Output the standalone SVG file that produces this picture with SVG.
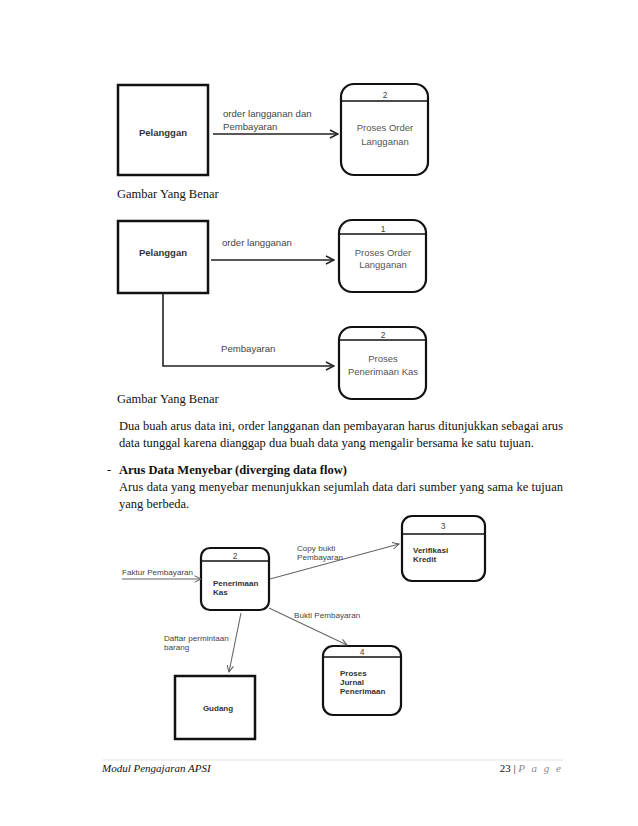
<svg xmlns="http://www.w3.org/2000/svg" width="638" height="826" viewBox="0 0 638 826">
<defs>
<marker id="arrB" viewBox="0 0 10 10" refX="9" refY="5" markerWidth="10" markerHeight="10" markerUnits="userSpaceOnUse" orient="auto">
<path d="M1,1 L9,5 L1,9" fill="none" stroke="#222" stroke-width="1.5"/>
</marker>
<marker id="arrG" viewBox="0 0 10 10" refX="9" refY="5" markerWidth="8" markerHeight="8" markerUnits="userSpaceOnUse" orient="auto">
<path d="M1,1 L9,5 L1,9" fill="none" stroke="#555" stroke-width="1.2"/>
</marker>
</defs>
<style>
.ent{fill:#fff;stroke:#111;stroke-width:2.5}
.proc{fill:#fff;stroke:#111;stroke-width:2.2}
.hdr{stroke:#111;stroke-width:1.5}
.flowB{fill:none;stroke:#222;stroke-width:1.6}
.flowG{fill:none;stroke:#666;stroke-width:1.1}
.lbl{font-family:"Liberation Sans",Arial,sans-serif;font-size:9.6px;fill:#444}
.lblb{font-family:"Liberation Sans",Arial,sans-serif;font-size:9.5px;font-weight:bold;fill:#333}
.plbl{font-family:"Liberation Sans",Arial,sans-serif;font-size:9.5px;fill:#555;text-anchor:middle}
.num{font-family:"Liberation Sans",Arial,sans-serif;font-size:8.5px;fill:#444;text-anchor:middle}
.s{font-family:"Liberation Sans",Arial,sans-serif;font-size:8.1px;fill:#444}
.sb{font-family:"Liberation Sans",Arial,sans-serif;font-size:8px;font-weight:bold;fill:#333}
.body{font-family:"Liberation Serif","Times New Roman",serif;font-size:12.5px;fill:#111}
.foot{font-family:"Liberation Serif","Times New Roman",serif;font-size:11px;fill:#111}
</style>
<rect width="638" height="826" fill="#fff"/>

<!-- Figure 1 -->
<g id="f1-pelanggan">
<rect class="ent" x="118" y="85" width="90" height="90"/>
<text class="lblb" x="163" y="136" text-anchor="middle">Pelanggan</text>
</g>
<g id="f1-proses2">
<rect class="proc" x="341" y="84" width="87" height="91" rx="13"/>
<line class="hdr" x1="341" y1="101" x2="428" y2="101"/>
<text class="num" x="385" y="98">2</text>
<text class="plbl" x="385" y="131">Proses Order</text>
<text class="plbl" x="385" y="145">Langganan</text>
</g>
<g id="f1-connectors">
<line class="flowB" x1="213" y1="134" x2="338" y2="134" marker-end="url(#arrB)"/>
<text class="lbl" x="223" y="117">order langganan dan</text>
<text class="lbl" x="223" y="130">Pembayaran</text>
</g>
<text class="body" x="117" y="198">Gambar Yang Benar</text>

<!-- Figure 2 -->
<g id="f2-pelanggan">
<rect class="ent" x="118" y="221" width="90" height="72"/>
<text class="lblb" x="163" y="256" text-anchor="middle">Pelanggan</text>
</g>
<g id="f2-proses1">
<rect class="proc" x="339" y="220" width="87" height="72" rx="13"/>
<line class="hdr" x1="339" y1="234" x2="426" y2="234"/>
<text class="num" x="383" y="232">1</text>
<text class="plbl" x="383" y="256">Proses Order</text>
<text class="plbl" x="383" y="268">Langganan</text>
</g>
<g id="f2-proses2">
<rect class="proc" x="339" y="327" width="87" height="72" rx="13"/>
<line class="hdr" x1="339" y1="340" x2="426" y2="340"/>
<text class="num" x="383" y="338">2</text>
<text class="plbl" x="383" y="362">Proses</text>
<text class="plbl" x="383" y="375">Penerimaan Kas</text>
</g>
<g id="f2-connectors">
<line class="flowB" x1="211" y1="260" x2="334" y2="260" marker-end="url(#arrB)"/>
<text class="lbl" x="222" y="246">order langganan</text>
<polyline class="flowB" points="163,293 163,366 334,366" marker-end="url(#arrB)"/>
<text class="lbl" x="221" y="352">Pembayaran</text>
</g>
<text class="body" x="117" y="403">Gambar Yang Benar</text>

<!-- Body text -->
<text class="body" x="119" y="430" textLength="444" lengthAdjust="spacing">Dua buah arus data ini, order langganan dan pembayaran harus ditunjukkan sebagai arus</text>
<text class="body" x="119" y="447">data tunggal karena dianggap dua buah data yang mengalir bersama ke satu tujuan.</text>
<text class="body" x="107" y="474">-</text>
<text class="body" x="119" y="474" font-weight="bold">Arus Data Menyebar (diverging data flow)</text>
<text class="body" x="119" y="491" textLength="444" lengthAdjust="spacing">Arus data yang menyebar menunjukkan sejumlah data dari sumber yang sama ke tujuan</text>
<text class="body" x="119" y="508">yang berbeda.</text>

<!-- Figure 3 -->
<g id="f3-penerimaan">
<rect class="proc" x="201" y="548" width="68" height="62" rx="9" stroke-width="1.8"/>
<line class="hdr" x1="201" y1="561" x2="269" y2="561" stroke-width="1.2"/>
<text class="num" x="235" y="559" font-size="8">2</text>
<text class="sb" x="213" y="586">Penerimaan</text>
<text class="sb" x="213" y="595">Kas</text>
</g>
<g id="f3-verifikasi">
<rect class="proc" x="402" y="516" width="83" height="65" rx="10" stroke-width="1.8"/>
<line class="hdr" x1="402" y1="534" x2="485" y2="534" stroke-width="1.2"/>
<text class="num" x="443" y="529" font-size="8">3</text>
<text class="sb" x="413" y="553">Verifikasi</text>
<text class="sb" x="413" y="562">Kredit</text>
</g>
<g id="f3-jurnal">
<rect class="proc" x="323" y="646" width="78" height="69" rx="10" stroke-width="1.8"/>
<line class="hdr" x1="323" y1="657" x2="401" y2="657" stroke-width="1.2"/>
<text class="num" x="362" y="655" font-size="8">4</text>
<text class="sb" x="340" y="676">Proses</text>
<text class="sb" x="340" y="685">Jurnal</text>
<text class="sb" x="340" y="694">Penerimaan</text>
</g>
<g id="f3-gudang">
<rect class="ent" x="175" y="676" width="80" height="63" stroke-width="2"/>
<text class="sb" x="218" y="711" text-anchor="middle">Gudang</text>
</g>
<g id="f3-connectors">
<line class="flowG" x1="122" y1="579" x2="201" y2="579" marker-end="url(#arrG)"/>
<text class="s" x="122" y="575">Faktur Pembayaran</text>
<line class="flowG" x1="270" y1="579" x2="399" y2="544" marker-end="url(#arrG)"/>
<text class="s" x="297" y="551">Copy bukti</text>
<text class="s" x="297" y="560">Pembayaran</text>
<line class="flowG" x1="269" y1="608" x2="347" y2="645" marker-end="url(#arrG)"/>
<text class="s" x="294" y="618">Bukti Pembayaran</text>
<line class="flowG" x1="241" y1="613" x2="229" y2="672" marker-end="url(#arrG)"/>
<text class="s" x="164" y="641">Daftar permintaan</text>
<text class="s" x="164" y="650">barang</text>
</g>

<!-- Footer -->
<line x1="102" y1="760" x2="563" y2="760" stroke="#ddd" stroke-width="0.8"/>
<text class="foot" x="102" y="772" font-style="italic" style="font-style:italic">Modul Pengajaran APSI</text>
<text class="foot" x="563" y="772" text-anchor="end" style="font-style:normal"><tspan>23 | </tspan><tspan style="font-style:italic" fill="#888" letter-spacing="2">P a g e</tspan></text>
</svg>
